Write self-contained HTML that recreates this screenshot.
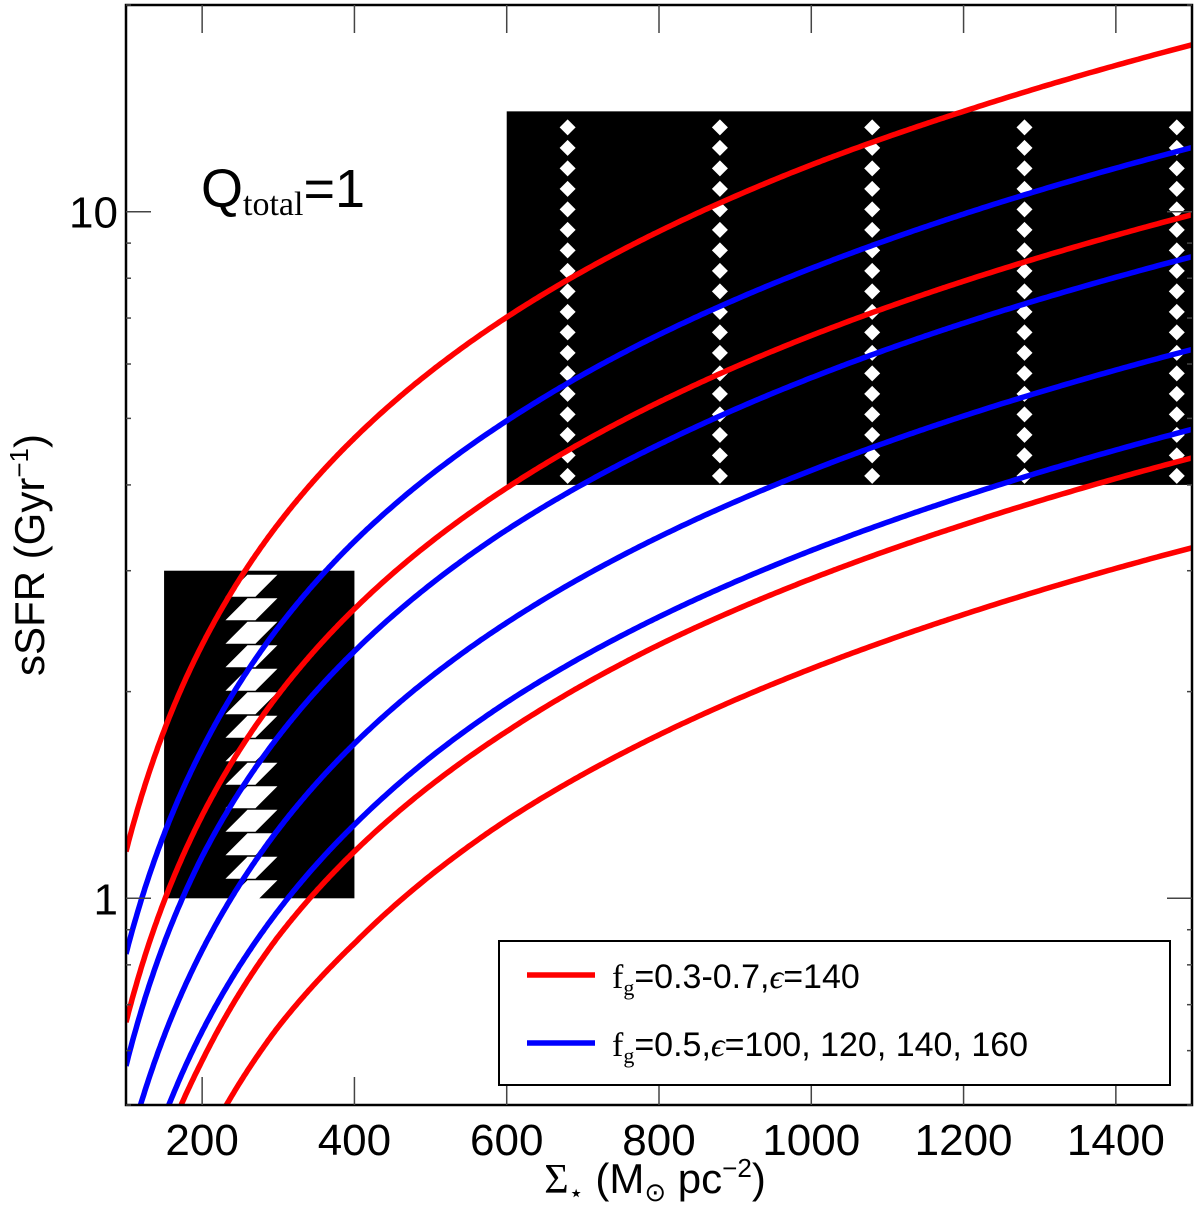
<!DOCTYPE html>
<html><head><meta charset="utf-8">
<style>
html,body{margin:0;padding:0;background:#fff;width:1200px;height:1215px;overflow:hidden;}
svg{display:block;font-family:"Liberation Sans",sans-serif;overflow:hidden;}
</style></head>
<body>
<svg id="chart" width="1200" height="1215" viewBox="0 0 1200 1215">
<defs><clipPath id="plotclip"><rect x="126" y="5" width="1066" height="1100"/></clipPath></defs>
<g id="boxes" clip-path="url(#plotclip)"></g>
<g id="curves" clip-path="url(#plotclip)"></g>
<rect x="126" y="5" width="1066" height="1100" fill="none" stroke="#000" stroke-width="2.5"/>
<g id="ticks"></g>
<text x="201" y="207" font-size="54">Q<tspan font-family="Liberation Serif,serif" font-size="34" dy="8">total</tspan><tspan dy="-8">=1</tspan></text>
<text transform="translate(44,555) rotate(-90)" text-anchor="middle" font-size="42">sSFR (Gyr<tspan font-size="26" dy="-16">−1</tspan><tspan dy="16">)</tspan></text>
<text x="655" y="1193" text-anchor="middle" font-size="42"><tspan font-family="Liberation Serif,serif">Σ</tspan><tspan font-size="24" dy="8">⋆</tspan><tspan dy="-8"> (M</tspan><tspan font-size="26" dy="8">⊙</tspan><tspan dy="-8"> pc</tspan><tspan font-size="26" dy="-16">−2</tspan><tspan dy="16">)</tspan></text>
<g>
<rect x="499" y="941" width="671" height="144" fill="#fff" stroke="#000" stroke-width="2"/>
<line x1="527" y1="975" x2="595" y2="975" stroke="#f00" stroke-width="5.5"/>
<text x="612" y="988" font-size="34"><tspan font-family="Liberation Serif,serif">f</tspan><tspan font-family="Liberation Serif,serif" font-size="22" dy="7">g</tspan><tspan dy="-7">=0.3-0.7,</tspan><tspan font-family="Liberation Serif,serif" font-style="italic">ϵ</tspan>=140</text>
<line x1="527" y1="1043" x2="595" y2="1043" stroke="#00f" stroke-width="5.5"/>
<text x="612" y="1056" font-size="34"><tspan font-family="Liberation Serif,serif">f</tspan><tspan font-family="Liberation Serif,serif" font-size="22" dy="7">g</tspan><tspan dy="-7">=0.5,</tspan><tspan font-family="Liberation Serif,serif" font-style="italic">ϵ</tspan>=100, 120, 140, 160</text>
</g>
</svg>
<script>
const xTicks=[200,400,600,800,1000,1200,1400];
const yMajor=[1,10];
const yMinor=[0.5,0.6,0.7,0.8,0.9,2,3,4,5,6,7,8,9,20];
const sigma=[100,200,300,400,600,800,1000,1200,1500];
const red1=[1.17,2.34,3.51,4.68,7.02,9.36,11.7,14.0,17.5];
const red2=[0.66,1.32,1.98,2.64,3.96,5.28,6.6,7.92,9.9];
const red3=[0.29,0.58,0.88,1.17,1.75,2.34,2.92,3.5,4.38];
const red4=[0.22,0.43,0.65,0.86,1.30,1.73,2.16,2.59,3.24];
const blue1=[0.83,1.65,2.48,3.31,4.96,6.62,8.27,9.92,12.4];
const blue2=[0.57,1.15,1.72,2.29,3.44,4.58,5.73,6.88,8.6];
const blue3=[0.42,0.84,1.26,1.68,2.52,3.36,4.2,5.04,6.3];
const blue4=[0.32,0.64,0.96,1.28,1.93,2.57,3.21,3.85,4.82];
const bigBox=[600,1500,4,14];
const smallBox=[150,400,1,3];
const bigHatchX=[680,880,1080,1280,1480];
const smallHatchX=[270];

const NS="http://www.w3.org/2000/svg";
const X0=126,X1=1192,Y0=1105,Y1=5;
function xs(v){return X0+(v-100)/(1500-100)*(X1-X0);}
function ys(v){return Y0-(Math.log10(v)-Math.log10(0.5))/(Math.log10(20)-Math.log10(0.5))*(Y0-Y1);}
function mk(tag,attrs,parent){const e=document.createElementNS(NS,tag);for(const k in attrs)e.setAttribute(k,attrs[k]);parent.appendChild(e);return e;}

const boxes=document.getElementById('boxes');
let r=mk('rect',{x:xs(bigBox[0]),y:ys(bigBox[3]),width:xs(bigBox[1])-xs(bigBox[0]),height:ys(bigBox[2])-ys(bigBox[3]),fill:'#000'},boxes);


bigHatchX.forEach(hx=>{
  const cx=xs(hx);
  for(let yy=ys(bigBox[3])+8;yy<ys(bigBox[2])-4;yy+=20.5){
    const d=mk('path',{d:`M${cx-8},${yy+8} L${cx},${yy} L${cx+8},${yy+8} L${cx},${yy+16} Z`,fill:'#fff'},boxes);
    
    
  }
});
r=mk('rect',{x:xs(smallBox[0]),y:ys(smallBox[3]),width:xs(smallBox[1])-xs(smallBox[0]),height:ys(smallBox[2])-ys(smallBox[3]),fill:'#000'},boxes);


smallHatchX.forEach(hx=>{
  const cx=xs(hx);
  for(let yy=ys(smallBox[3])+4;yy<ys(smallBox[2])-6;yy+=23.5){
    const d=mk('path',{d:`M${cx-30},${yy+22} L${cx-8},${yy} L${cx+22},${yy} L${cx},${yy+22} Z`,fill:'#fff'},boxes);
    
    
  }
});

const curves=document.getElementById('curves');
function pathFor(vals){
  const pts=[];
  for(let i=0;i<sigma.length-1;i++){
    const n=60;
    for(let k=0;k<n;k++){
      const t=k/n;
      const s=sigma[i]+(sigma[i+1]-sigma[i])*t;
      const v=vals[i]+(vals[i+1]-vals[i])*t;
      if(v>=0.45) pts.push([xs(s),ys(v)]);
    }
  }
  pts.push([xs(sigma[sigma.length-1]),ys(vals[vals.length-1])]);
  return 'M'+pts.map(p=>p[0].toFixed(1)+','+p[1].toFixed(1)).join(' L');
}
[[red1,'#f00','red-curve-1'],[red2,'#f00','red-curve-2'],[red3,'#f00','red-curve-3'],[red4,'#f00','red-curve-4'],
 [blue1,'#00f','blue-curve-1'],[blue2,'#00f','blue-curve-2'],[blue3,'#00f','blue-curve-3'],[blue4,'#00f','blue-curve-4']].forEach(c=>{
  const p=mk('path',{d:pathFor(c[0]),fill:'none',stroke:c[1],'stroke-width':5.5},curves);
  
  
});

const ticks=document.getElementById('ticks');
xTicks.forEach(t=>{
  const x=xs(t);
  let l=mk('line',{x1:x,y1:Y0,x2:x,y2:Y0-28,stroke:'#444','stroke-width':1.5},ticks);
  
  
  l=mk('line',{x1:x,y1:Y1,x2:x,y2:Y1+28,stroke:'#444','stroke-width':1.5},ticks);
  
  
  const tx=mk('text',{x:x,y:Y0+50,'text-anchor':'middle','font-size':44},ticks);
  tx.textContent=t;
  
  
});
yMajor.forEach(t=>{
  const y=ys(t);
  let l=mk('line',{x1:X0,y1:y,x2:X0+25,y2:y,stroke:'#444','stroke-width':1.5},ticks);
  
  
  l=mk('line',{x1:X1,y1:y,x2:X1-25,y2:y,stroke:'#444','stroke-width':1.5},ticks);
  
  
  const tx=mk('text',{x:X0-8,y:y+16,'text-anchor':'end','font-size':44},ticks);
  tx.textContent=t;
  
  
});
yMinor.forEach(t=>{
  const y=ys(t);
  let l=mk('line',{x1:X0,y1:y,x2:X0+5,y2:y,stroke:'#444','stroke-width':1.5},ticks);
  
  
  l=mk('line',{x1:X1,y1:y,x2:X1-5,y2:y,stroke:'#444','stroke-width':1.5},ticks);
  
  
});
</script>
</body></html>
